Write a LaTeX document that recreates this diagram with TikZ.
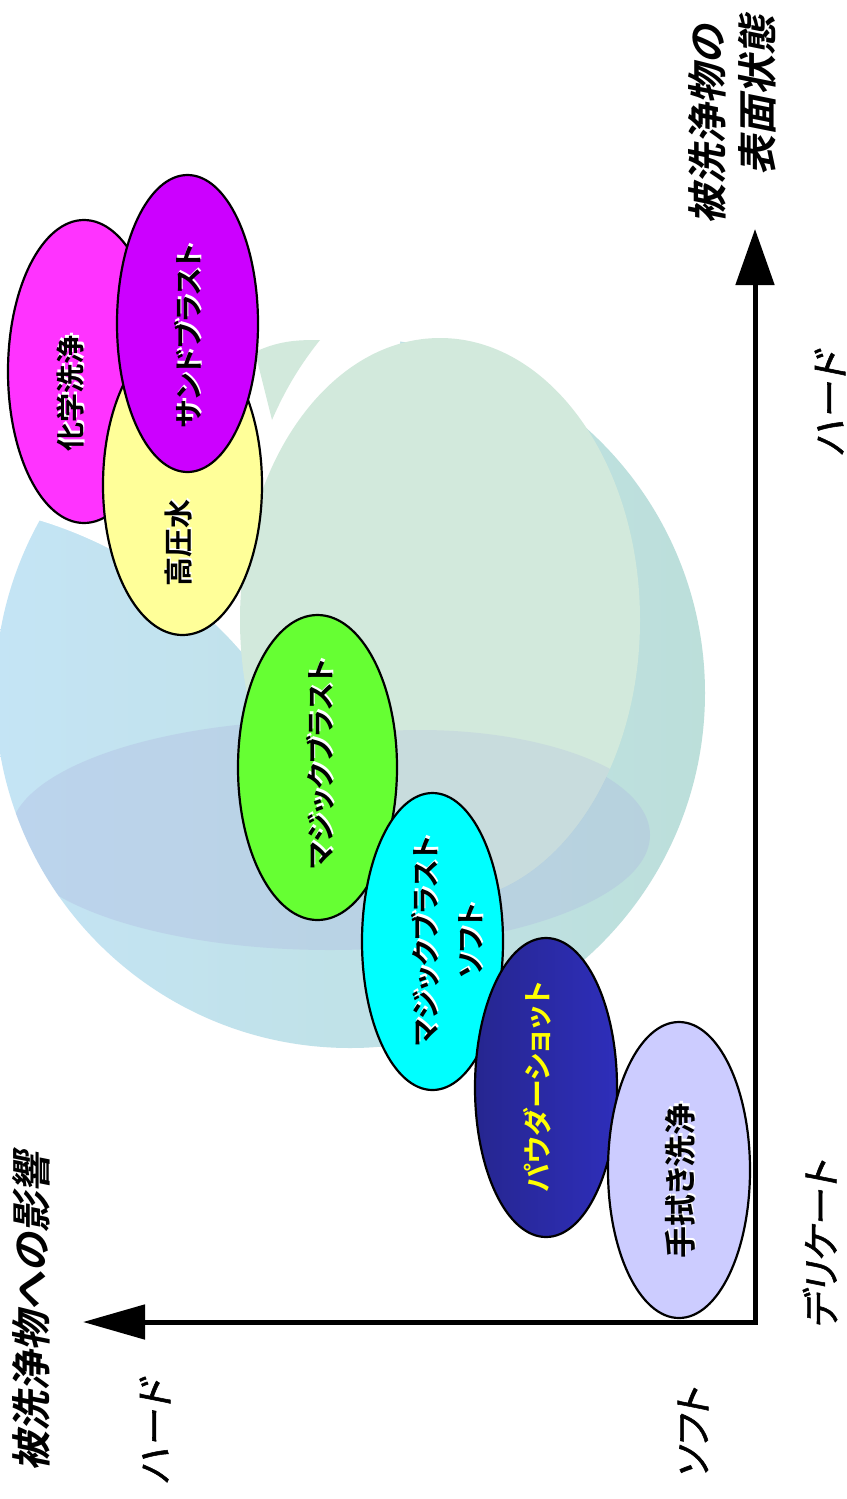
\documentclass[tikz,border=0pt]{standalone}
\usepackage{fontspec}
\usetikzlibrary{shapes.geometric,arrows.meta}
\newfontfamily\jpB[RawFeature={+palt}]{Noto Sans CJK JP Bold}
\newfontfamily\jpBI[RawFeature={+palt},FakeSlant=0.2]{Noto Sans CJK JP Bold}
\newfontfamily\jpI[RawFeature={+palt},FakeSlant=0.2,FakeBold=1.4]{Noto Sans CJK JP}
\definecolor{pinkc}{HTML}{FF33FF}
\definecolor{yellowc}{HTML}{FFFF99}
\definecolor{purplec}{HTML}{CC00FF}
\definecolor{greenc}{HTML}{66FF33}
\definecolor{cyanc}{HTML}{00FFFF}
\definecolor{lavc}{HTML}{CCCCFF}
\definecolor{dbL}{HTML}{262690}
\definecolor{dbM}{HTML}{3434CC}
\definecolor{dbR}{HTML}{2E2EBA}
\definecolor{ytext}{HTML}{FFFF00}
\definecolor{bgblue}{HTML}{C4E4F5}
\definecolor{bgteal}{HTML}{BCDFDA}
\definecolor{bggreen}{HTML}{D2E9DC}
\definecolor{bgband}{HTML}{AEB8E0}
\tikzset{
  blob/.style={ellipse, draw=black, line width=2.2pt, inner sep=0pt, outer sep=0pt},
  lab/.style={rotate=90, font={\jpB\fontsize{29}{45}\selectfont}, inner sep=0pt, align=center},
  labshadow/.style={lab, text=white, xshift=2.5pt, yshift=-1pt},
  axtitle/.style={rotate=90, font={\jpBI\fontsize{40}{50}\selectfont}, inner sep=0pt},
  axlab/.style={rotate=90, font={\jpI\fontsize{38}{46}\selectfont}, inner sep=0pt},
  axisline/.style={line width=5pt, line join=miter,
    {Triangle[length=56pt,width=38pt]}-{Triangle[length=62pt,width=34pt]}}
}
\begin{document}
\begin{tikzpicture}[x=1pt,y=-1pt]
\useasboundingbox (0,0) rectangle (846,1499);
\fill[white] (0,0) rectangle (846,1499);
% faint globe in the background
\begin{scope}
  \clip (-20,300) rectangle (846,1100);
  \shade[left color=bgblue, right color=bgteal] (350,693) circle[radius=355];
  \begin{scope}
    \clip (350,693) circle[radius=355];
    \fill[bgband, opacity=0.35] (330,835) ellipse[x radius=320, y radius=115];
  \end{scope}
  \fill[white] (-30,515) -- (20,515) .. controls (120,540) and (200,600) .. (250,662)
      -- (400,662) -- (400,290) -- (-30,290) -- cycle;
  \fill[bggreen] (440,620) ellipse[x radius=200, y radius=282];
  \begin{scope}
    \clip (440,620) ellipse[x radius=200, y radius=282];
    \fill[bgband, opacity=0.25] (420,830) ellipse[x radius=240, y radius=100];
  \end{scope}
  \fill[bggreen] (255,352) .. controls (280,340) and (300,340) .. (320,340)
      .. controls (300,365) and (285,390) .. (272,420) -- cycle;
\end{scope}
% ellipses
\node[blob, fill=pinkc, minimum width=152pt, minimum height=303pt] (chem) at (84,371.5) {};
\node[blob, fill=yellowc, minimum width=159pt, minimum height=300pt] (hpw) at (182.5,485) {};
\node[blob, fill=purplec, minimum width=141pt, minimum height=297pt] (sand) at (187.5,323.5) {};
\node[blob, fill=greenc, minimum width=159pt, minimum height=305pt] (magic) at (317.5,767.5) {};
\node[blob, fill=cyanc, minimum width=141pt, minimum height=297pt] (magics) at (432.5,941.5) {};
\node[blob, left color=dbL, middle color=dbM, right color=dbR, minimum width=142pt, minimum height=299pt] (powder) at (546,1087.5) {};
\node[blob, fill=lavc, minimum width=142pt, minimum height=296pt] (hand) at (679,1170) {};
% labels in the ellipses (white relief first)
\node[labshadow] (chems) at (70,393) {化学洗浄};
\node[lab] (chemt) at (70,393) {化学洗浄};
\node[labshadow] (hpws) at (178,543) {高圧水};
\node[lab] (hpwt) at (178,543) {高圧水};
\node[labshadow] (sands) at (188,336) {サンドブラスト};
\node[lab] (sandt) at (188,336) {サンドブラスト};
\node[labshadow] (magics1) at (320,764) {マジックブラスト};
\node[lab] (magict) at (320,764) {マジックブラスト};
\node[labshadow] (magicss) at (447,941) {マジックブラスト\\ソフト};
\node[lab] (magicst) at (447,941) {マジックブラスト\\ソフト};
\node[lab, text=ytext] (powdert) at (537,1087) {パウダーショット};
\node[labshadow, font={\jpB\fontsize{32}{40}\selectfont}] (hands) at (680,1181) {手拭き洗浄};
\node[lab, font={\jpB\fontsize{32}{40}\selectfont}] (handt) at (680,1181) {手拭き洗浄};
% axes
\coordinate (O) at (755,1322);
\coordinate (Ytip) at (755,229);
\coordinate (Xtip) at (83,1322);
\draw[axisline] (Ytip) -- (O) -- (Xtip);
% axis titles and labels
\node[axtitle] (yt1) at (707,125) {被洗浄物の};
\node[axtitle] (yt2) at (757,95) {表面状態};
\node[axtitle] (xt) at (31,1312) {被洗浄物への影響};
\node[axlab] (yhard) at (830,404) {ハード};
\node[axlab] (ydel) at (820,1245) {デリケート};
\node[axlab] (xsoft) at (693,1434) {ソフト};
\node[axlab] (xhard) at (155,1432) {ハード};
\end{tikzpicture}
\end{document}
